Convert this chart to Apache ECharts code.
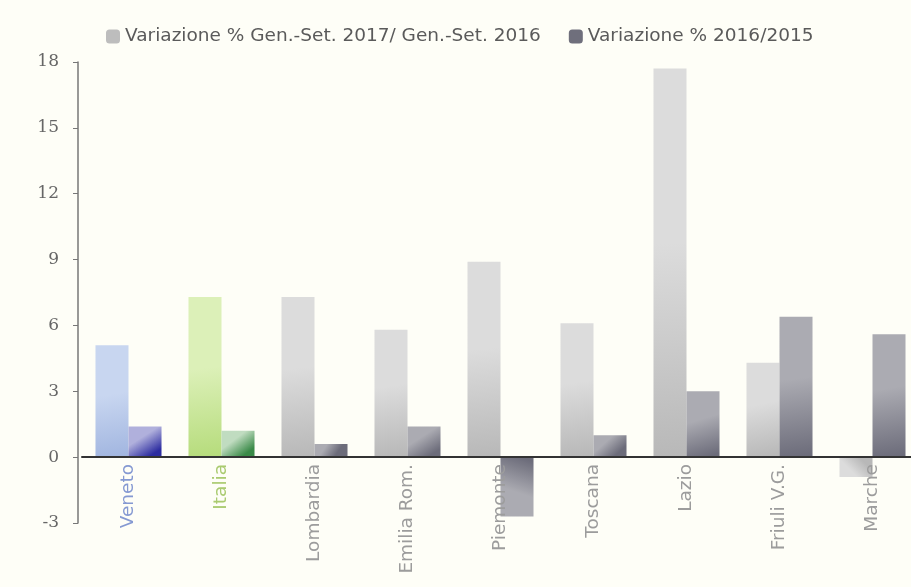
<!DOCTYPE html>
<html>
<head>
<meta charset="utf-8">
<script src="https://cdn.jsdelivr.net/npm/echarts@6/dist/echarts.min.js"></script>
<style>
  html, body { margin: 0; padding: 0; background: #fefef7; }
  #chart { width: 911px; height: 587px; }
</style>
</head>
<body>
<div id="chart"></div>
<script>
// Regions on the category axis
const regions = ['Veneto', 'Italia', 'Lombardia', 'Emilia Rom.', 'Piemonte', 'Toscana', 'Lazio', 'Friuli V.G.', 'Marche'];

// Percentage change, Jan.–Sep. 2017 vs Jan.–Sep. 2016
const var2017 = [5.1, 7.3, 7.3, 5.8, 8.9, 6.1, 17.7, 4.3, -0.9];
// Percentage change, 2016 vs 2015
const var2016 = [1.4, 1.2, 0.6, 1.4, -2.7, 1.0, 3.0, 6.4, 5.6];

const seriesNames = ['Variazione % Gen.-Set. 2017/ Gen.-Set. 2016', 'Variazione % 2016/2015'];

// Value axis ticks
const yMin = -3, yMax = 18, yStep = 3;

// Bar palettes: default grey, Veneto in blue, Italia in green
function grad(top, bottom, neg) {
  return new echarts.graphic.LinearGradient(0, neg ? 1 : 0, 0.6, neg ? 0 : 1, [
    { offset: 0, color: top },
    { offset: 0.45, color: top },
    { offset: 1, color: bottom }
  ]);
}
const palette = {
  light: { def: ['#dcdcdc', '#b8b8b8'], Veneto: ['#c8d6f0', '#a2b6e0'], Italia: ['#dcf0b8', '#b6dc7c'] },
  dark:  { def: ['#ababb2', '#6c6c7a'], Veneto: ['#b0b0dc', '#2c2ca0'], Italia: ['#c0dcc0', '#3a8a48'] }
};
function items(values, kind) {
  return values.map((v, i) => {
    const p = palette[kind][regions[i]] || palette[kind].def;
    return { value: v, itemStyle: { color: grad(p[0], p[1], v < 0) } };
  });
}

const labelColors = { Veneto: '#8599d2', Italia: '#aacb70' };

const chart = echarts.init(document.getElementById('chart'), null, { renderer: 'canvas' });
chart.setOption({
  backgroundColor: '#fefef7',
  animation: false,
  legend: {
    top: 22,
    left: 101,
    itemWidth: 14,
    itemHeight: 14,
    itemGap: 28,
    textStyle: { color: '#5a5a5a', fontSize: 18.5, fontFamily: 'DejaVu Sans' },
    data: [
      { name: seriesNames[0], itemStyle: { color: '#bdbdbd' } },
      { name: seriesNames[1], itemStyle: { color: '#6f6f7c' } }
    ]
  },
  grid: { left: 82, top: 62, width: 837, bottom: 64, outerBoundsMode: 'none', containLabel: false },
  xAxis: {
    type: 'category',
    data: regions,
    zlevel: 1,
    axisLine: { onZero: true, lineStyle: { color: '#333', width: 2 } },
    axisTick: { show: false },
    axisLabel: {
      interval: 0,
      rotate: 90,
      margin: -59,
      fontSize: 18.5,
      fontFamily: 'DejaVu Sans',
      color: (v) => labelColors[v] || '#9c9c9c'
    }
  },
  yAxis: {
    type: 'value',
    min: yMin,
    max: yMax,
    interval: yStep,
    offset: 4,
    splitLine: { show: false },
    axisLine: { show: true, lineStyle: { color: '#777', width: 1.5 } },
    axisTick: { show: true, length: 5, lineStyle: { color: '#777' } },
    axisLabel: { color: '#666', fontSize: 17, fontFamily: 'DejaVu Serif', margin: 19 }
  },
  series: [
    {
      name: seriesNames[0],
      type: 'bar',
      barGap: '0%',
      barCategoryGap: '29%',
      data: items(var2017, 'light')
    },
    {
      name: seriesNames[1],
      type: 'bar',
      data: items(var2016, 'dark')
    }
  ]
});
</script>
</body>
</html>
